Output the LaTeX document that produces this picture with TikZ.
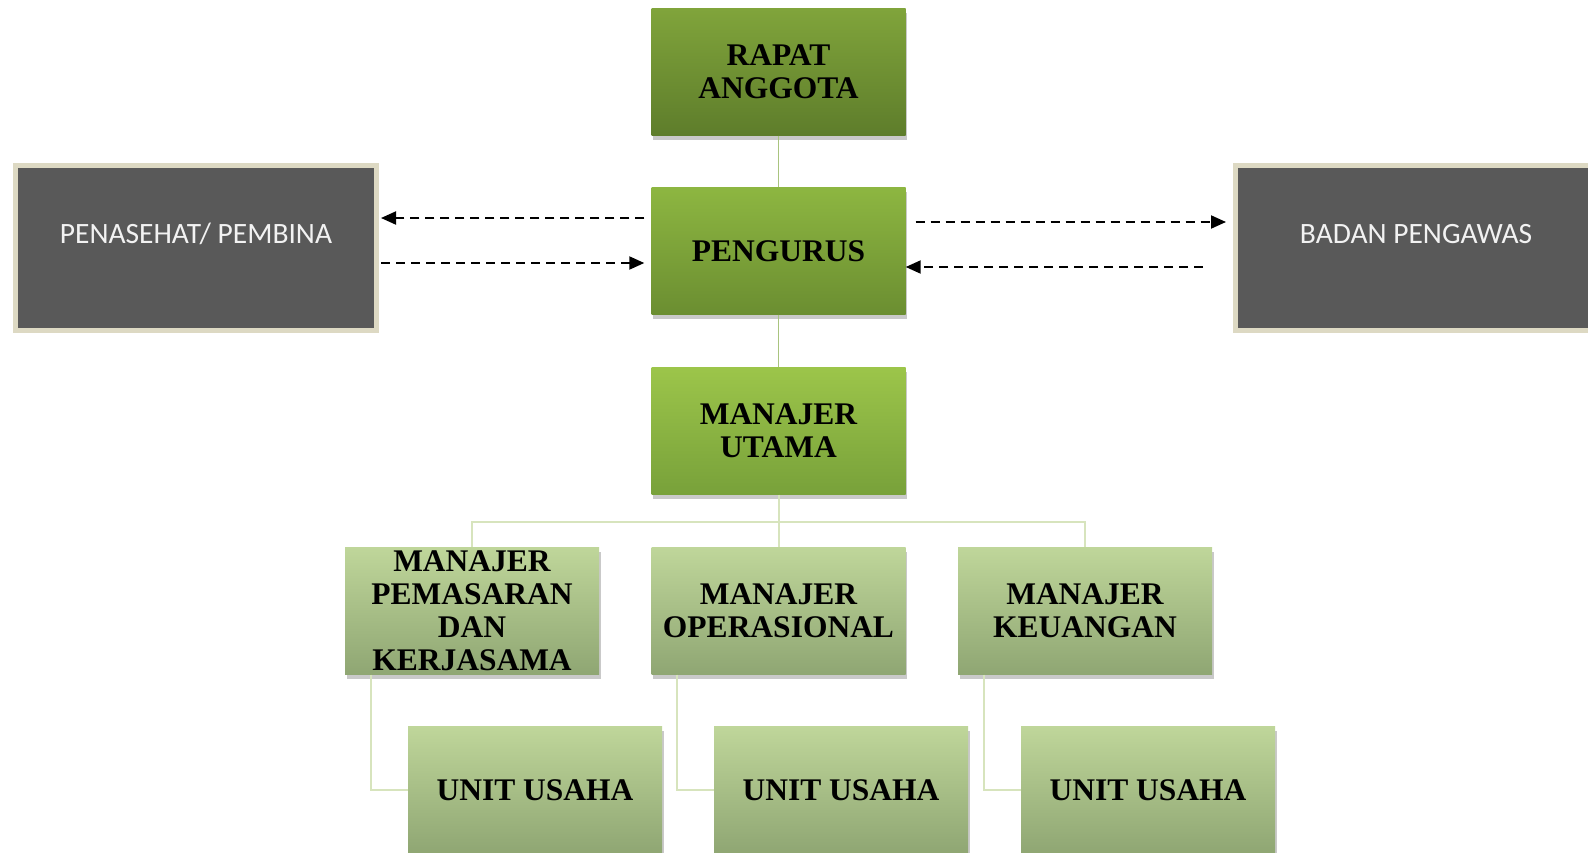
\documentclass[tikz,border=0pt]{standalone}
\usepackage{fontspec}
\usepackage{xcolor}
\usetikzlibrary{arrows.meta,shadows}
\setmainfont{Liberation Serif}
\newfontfamily\boxsans{Carlito}

\definecolor{ragreen}{HTML}{80A43B}
\definecolor{ragreendk}{HTML}{5E7D2B}
\definecolor{pggreen}{HTML}{8DB641}
\definecolor{pggreendk}{HTML}{6B8E31}
\definecolor{mugreen}{HTML}{9CC54A}
\definecolor{mugreendk}{HTML}{78A13A}
\definecolor{lowgreen}{HTML}{BFD69A}
\definecolor{lowgreendk}{HTML}{8FA673}
\definecolor{topline}{HTML}{A9C47F}
\definecolor{lowline}{HTML}{D7E4BD}
\definecolor{greybox}{HTML}{595959}
\definecolor{beige}{HTML}{DDD9C3}

\tikzset{
  greenbox/.style={rectangle, minimum width=254pt, minimum height=127pt, inner sep=0pt,
    align=center, font=\bfseries\fontsize{31.5}{33}\selectfont,
    drop shadow={shadow xshift=1.5pt, shadow yshift=-4pt, opacity=0.3, fill=black!70}},
  greybox/.style={rectangle, fill=greybox, draw=beige, line width=5pt,
    minimum width=361pt, minimum height=165pt, inner sep=0pt,
    text=white!95!black, font=\boxsans\fontsize{29.5}{31}\selectfont,
    text height=18pt, text depth=28pt},
  topconn/.style={draw=topline, line width=1.8pt},
  lowconn/.style={draw=lowline, line width=2pt},
  dasharrow/.style={line width=2pt, dash pattern=on 9pt off 6pt,
    -{Triangle[length=15pt,width=13pt]}}
}

\begin{document}
\begin{tikzpicture}[x=1pt,y=-1pt]
		\useasboundingbox (0,0) rectangle (1588,852);
		% top column
		\node[greenbox, top color=ragreen, bottom color=ragreendk] (ra) at (778.5,72) {RAPAT\\ANGGOTA};
		\node[greenbox, top color=pggreen, bottom color=pggreendk] (peng) at (778.5,251) {PENGURUS};
		\node[greenbox, top color=mugreen, bottom color=mugreendk] (mu) at (778.5,431) {MANAJER\\UTAMA};
		\draw[topconn] (ra.south) -- (peng.north);
		\draw[topconn] (peng.south) -- (mu.north);
		
		% side boxes
		\node[greybox] (pen) at (196,248) {PENASEHAT/ PEMBINA};
		\node[greybox] (bp) at (1416,248) {BADAN PENGAWAS};
		\draw[dasharrow] ([shift={(-7,-33)}]peng.west) -- ([shift={(2,-30)}]pen.east);
		\draw[dasharrow] ([shift={(2,15)}]pen.east) -- ([shift={(-7,12)}]peng.west);
		\draw[dasharrow] ([shift={(10,-29)}]peng.east) -- ([shift={(-7,-26)}]bp.west);
		\draw[dasharrow] ([shift={(-30,19)}]bp.west) -- ([shift={(0,16)}]peng.east);
		
		% managers
		\node[greenbox, top color=lowgreen, bottom color=lowgreendk] (mpk) at (472,611) {MANAJER\\PEMASARAN\\DAN\\KERJASAMA};
		\node[greenbox, top color=lowgreen, bottom color=lowgreendk] (mo) at (778.5,611) {MANAJER\\OPERASIONAL};
		\node[greenbox, top color=lowgreen, bottom color=lowgreendk] (mk) at (1085,611) {MANAJER\\KEUANGAN};
		\draw[lowconn] (mpk.north) |- ([shift={(0,27)}]mu.south) -| (mk.north);
		\draw[lowconn] (mu.south) -- (mo.north);
		
		% units
		\node[greenbox, top color=lowgreen, bottom color=lowgreendk] (u1) at (535,790) {UNIT USAHA};
		\node[greenbox, top color=lowgreen, bottom color=lowgreendk] (u2) at (841,790) {UNIT USAHA};
		\node[greenbox, top color=lowgreen, bottom color=lowgreendk] (u3) at (1148,790) {UNIT USAHA};
		\draw[lowconn] ([xshift=26pt]mpk.south west) |- (u1.west);
		\draw[lowconn] ([xshift=26pt]mo.south west) |- (u2.west);
		\draw[lowconn] ([xshift=26pt]mk.south west) |- (u3.west);
		
		\end{tikzpicture}
\end{document}
